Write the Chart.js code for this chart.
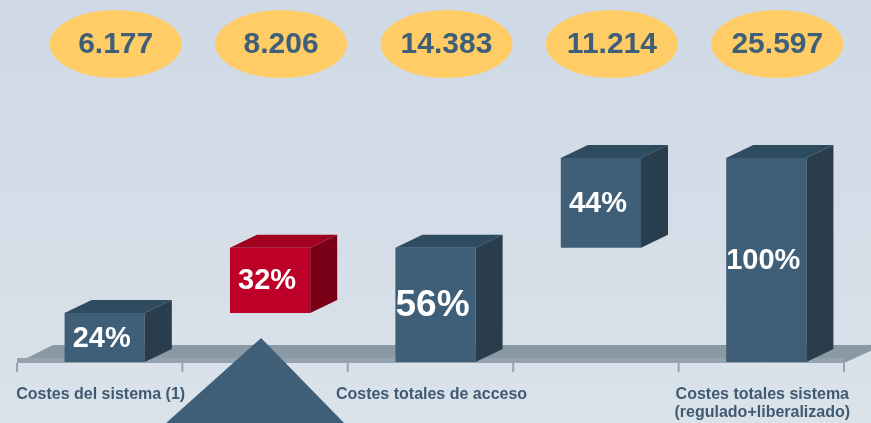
<!DOCTYPE html>
<html>
<head>
<meta charset="utf-8">
<script src="https://cdn.jsdelivr.net/npm/chart.js@4.4.0/dist/chart.umd.min.js"></script>
<style>
  html, body { margin: 0; padding: 0; }
  body { width: 871px; height: 423px; overflow: hidden; background: linear-gradient(#cfd9e5, #dae2ea); }
  #wrap { width: 871px; height: 423px; }
</style>
</head>
<body>
<div id="wrap"><canvas id="chart"></canvas></div>
<script>
// categories (only 1st, 3rd and 5th carry a label)
const categories = [
    "Costes del sistema (1)",
    "",
    "Costes totales de acceso",
    "",
    ["Costes totales sistema", "(regulado+liberalizado)"]
];
// amounts shown in the yellow ellipses
const amounts = [6177, 8206, 14383, 11214, 25597];
// share of the total, in %
const shares = [24, 32, 56, 44, 100];
// where each floating bar starts
const bases = [0, 24, 0, 56, 0];

const FRONT = ["#3f5f78", "#bd0027", "#3f5f78", "#3f5f78", "#3f5f78"];
const TOP   = ["#2f4b5f", "#a1001f", "#2f4b5f", "#2f4b5f", "#2f4b5f"];
const SIDE  = ["#293d4c", "#7a0018", "#293d4c", "#293d4c", "#293d4c"];
const DX = 27, DY = 13;

function fmt(n) {
    return String(n).replace(/\B(?=(\d{3})+(?!\d))/g, ".");
}

const box3d = {
    id: "box3d",
    beforeDatasetsDraw(chart) {
        const { ctx, chartArea, scales: { x } } = chart;
        const y0 = chartArea.bottom + 1;
        const step = x.getPixelForValue(1) - x.getPixelForValue(0);
        const left = x.getPixelForValue(0) - step / 2 - 5;
        const right = x.getPixelForValue(categories.length - 1) + step / 2 - 5;
        ctx.save();
        // floor
        ctx.fillStyle = "#8a9aa5";
        ctx.beginPath();
        ctx.moveTo(left, y0);
        ctx.lineTo(right, y0);
        ctx.lineTo(right + 40, y0 - 18);
        ctx.lineTo(left + 36, y0 - 18);
        ctx.closePath();
        ctx.fill();
        ctx.fillStyle = "#94a3ad";
        ctx.fillRect(left, y0 - 5, right - left, 5);
        // small ticks under the floor
        ctx.strokeStyle = "#95a4ae";
        ctx.lineWidth = 2;
        for (let i = 0; i <= categories.length; i++) {
            const tx = left + i * step;
            ctx.beginPath();
            ctx.moveTo(tx, y0);
            ctx.lineTo(tx, y0 + 9);
            ctx.stroke();
        }
        ctx.restore();
    },
    afterDatasetsDraw(chart) {
        const { ctx, chartArea } = chart;
        const meta = chart.getDatasetMeta(0);
        ctx.save();
        meta.data.forEach((bar, i) => {
            const { x, y, base, width } = bar.getProps(["x", "y", "base", "width"], true);
            const l = x - width / 2, r = x + width / 2;
            const top = Math.min(y, base), bot = Math.max(y, base);

            ctx.fillStyle = TOP[i];
            ctx.beginPath();
            ctx.moveTo(l, top);
            ctx.lineTo(r, top);
            ctx.lineTo(r + DX, top - DY);
            ctx.lineTo(l + DX, top - DY);
            ctx.closePath();
            ctx.fill();

            ctx.fillStyle = SIDE[i];
            ctx.beginPath();
            ctx.moveTo(r, top);
            ctx.lineTo(r + DX, top - DY);
            ctx.lineTo(r + DX, bot - DY);
            ctx.lineTo(r, bot);
            ctx.closePath();
            ctx.fill();

            ctx.fillStyle = "#ffffff";
            ctx.textAlign = "center";
            ctx.textBaseline = "middle";
            ctx.font = `bold ${i === 2 ? 37 : 29}px "Liberation Sans", Arial, sans-serif`;
            ctx.fillText(shares[i] + "%", x - 3, (top + bot) / 2 + 1);

            // yellow ellipse with the amount
            const ex = x + 11, ey = chartArea.top - 114;
            ctx.fillStyle = "#ffcc66";
            ctx.beginPath();
            ctx.ellipse(ex, ey, 66, 34, 0, 0, Math.PI * 2);
            ctx.fill();
            ctx.fillStyle = "#3f5f78";
            ctx.font = 'bold 30px "Liberation Sans", Arial, sans-serif';
            ctx.fillText(fmt(amounts[i]), ex, ey + 1);
        });
        ctx.restore();
    },
    afterDraw(chart) {
        // arrow-like triangle under the red bar
        const { ctx, chartArea } = chart;
        const bx = chart.getDatasetMeta(0).data[1].x;
        const h = chart.height;
        ctx.save();
        ctx.fillStyle = "#3f5f78";
        ctx.beginPath();
        ctx.moveTo(bx - 9, chartArea.bottom - 24);
        ctx.lineTo(bx + 74, h);
        ctx.lineTo(bx - 104, h);
        ctx.closePath();
        ctx.fill();
        ctx.restore();
    }
};

new Chart(document.getElementById("chart"), {
    type: "bar",
    data: {
        labels: categories,
        datasets: [{
            data: shares.map((s, i) => [bases[i], bases[i] + s]),
            backgroundColor: FRONT,
            borderWidth: 0,
            barPercentage: 0.485,
            categoryPercentage: 1
        }]
    },
    options: {
        responsive: true,
        maintainAspectRatio: false,
        animation: false,
        layout: { padding: { top: 158, left: 22, right: 22, bottom: 0 } },
        plugins: {
            legend: { display: false },
            tooltip: { enabled: false }
        },
        scales: {
            y: { display: false, min: 0, max: 100 },
            x: {
                grid: { display: false, drawTicks: false },
                border: { display: false },
                ticks: {
                    color: "#405a72",
                    font: { family: "'Liberation Sans', Arial, sans-serif", size: 16, weight: "bold", lineHeight: 1.1 },
                    padding: 24,
                    labelOffset: -4,
                    maxRotation: 0,
                    minRotation: 0,
                    autoSkip: false
                },
                afterFit(scale) {
                    scale.height = 61;
                    scale.paddingLeft = 0;
                    scale.paddingRight = 0;
                }
            }
        }
    },
    plugins: [box3d]
});
</script>
</body>
</html>
